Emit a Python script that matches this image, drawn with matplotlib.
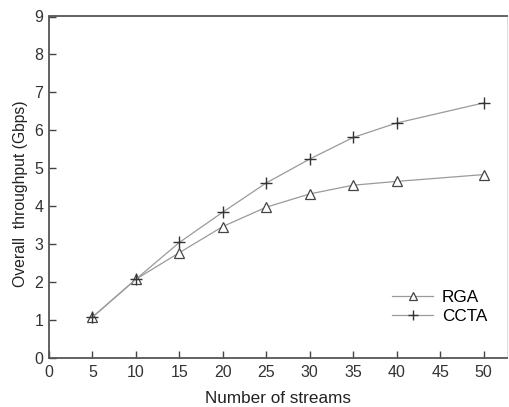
import matplotlib
matplotlib.use("Agg")
import matplotlib.pyplot as plt

streams = [5, 10, 15, 20, 25, 30, 35, 40, 50]
rga = [1.07, 2.07, 2.77, 3.46, 3.97, 4.32, 4.55, 4.65, 4.83]
ccta = [1.07, 2.07, 3.04, 3.84, 4.61, 5.24, 5.81, 6.19, 6.72]
xticks = list(range(0, 55, 5))
yticks = list(range(0, 10))

plt.rcParams["font.family"] = ["Liberation Sans", "DejaVu Sans"]

fig = plt.figure(figsize=(5.09, 4.07), dpi=100)
ax = fig.add_axes([49 / 509, 1 - 357.7 / 407, (507 - 49) / 509, (357.7 - 16.5) / 407])

ax.plot(streams, rga, color="#9a9a9a", lw=0.9, marker="^", ms=7.5, mfc="white",
        mec="#444444", mew=0.9, label="RGA")
ax.plot(streams, ccta, color="#9a9a9a", lw=0.9, marker="+", ms=8.5,
        mec="#333333", mew=1.0, label="CCTA")

ax.set_xlim(0, 52.7)
ax.set_ylim(0, 9)
ax.set_xticks(xticks)
ax.set_yticks(yticks)
ax.tick_params(direction="in", length=5, width=1, color="#444444", labelsize=11.5,
               labelcolor="#333333", pad=5)
ax.tick_params(axis="y", pad=4)

for s in ["left", "bottom", "top"]:
    ax.spines[s].set_color("#555555")
    ax.spines[s].set_linewidth(1.3)
ax.spines["right"].set_color("#dddddd")
ax.spines["right"].set_linewidth(0.8)

ax.set_xlabel("Number of streams", fontsize=12.3, color="#222222", labelpad=8)
ax.set_ylabel("Overall  throughput (Gbps)", fontsize=11.3, color="#222222")
ax.yaxis.set_label_coords(-0.045, 0.48)

ax.legend(loc="lower right", bbox_to_anchor=(0.99, 0.055), frameon=False,
          fontsize=12.3, handlelength=2.4, handletextpad=0.5, labelspacing=0.2,
          markerscale=0.85)

fig.savefig("out.png", dpi=100)
